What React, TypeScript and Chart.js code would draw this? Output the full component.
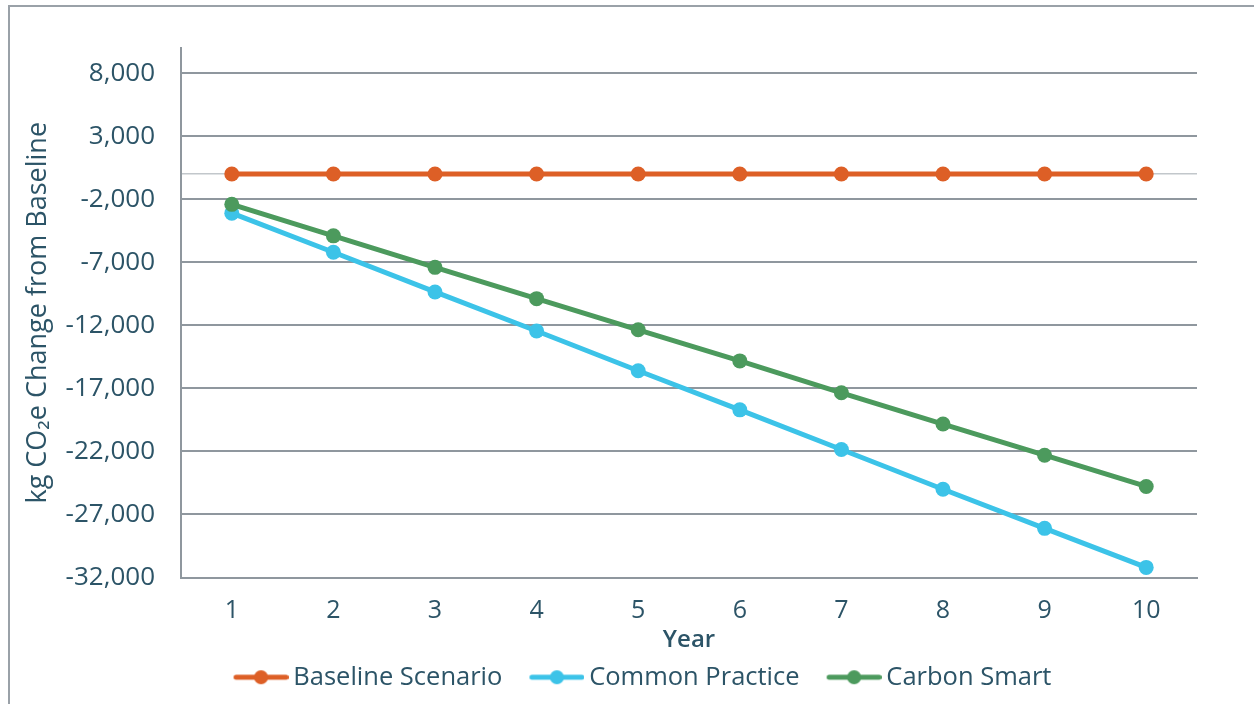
import { useEffect, useRef } from "react";
import { Chart, registerables } from "chart.js";

Chart.register(...registerables);

// Category axis: years 1..10
const years = ["1", "2", "3", "4", "5", "6", "7", "8", "9", "10"];

// Change in emissions relative to the baseline, kg CO2e
const baselineScenario = [0, 0, 0, 0, 0, 0, 0, 0, 0, 0];
const commonPractice = [-3100, -6200, -9350, -12450, -15600, -18700, -21850, -25000, -28100, -31200];
const carbonSmart = [-2400, -4900, -7400, -9880, -12350, -14820, -17350, -19830, -22300, -24780];

// Value axis: gridlines every 5,000 starting from the minimum
const yTickValues = [-32000, -27000, -22000, -17000, -12000, -7000, -2000, 3000, 8000];
const yMin = -32000;
const yMax = 10000;

const seriesNames = ["Baseline Scenario", "Common Practice", "Carbon Smart"];
const seriesColors = ["#dd5f26", "#3cc3e8", "#4c9a5d"];

const TEXT = "#2c5467";
const GRID = "#8f979e";
const ZERO_LINE = "#c2c7cb";
const FONT = "'Open Sans', Lato, sans-serif";

// Legend sample: a short line with a marker in its middle
function legendIcon(color: string): HTMLCanvasElement {
  const c = document.createElement("canvas");
  c.width = 80;
  c.height = 16;
  const ctx = c.getContext("2d")!;
  ctx.strokeStyle = color;
  ctx.lineWidth = 5;
  ctx.lineCap = "round";
  ctx.beginPath();
  ctx.moveTo(27.5, 8);
  ctx.lineTo(77.5, 8);
  ctx.stroke();
  ctx.fillStyle = color;
  ctx.beginPath();
  ctx.arc(52.5, 8, 7, 0, Math.PI * 2);
  ctx.fill();
  return c;
}

export default function App() {
  const ref = useRef<HTMLCanvasElement>(null);

  useEffect(() => {
    const canvas = ref.current;
    if (!canvas) return;
    const icons = seriesColors.map(legendIcon);
    const seriesData = [baselineScenario, commonPractice, carbonSmart];
    const drawOrder = [2, 1, 0];

    const chart = new Chart(canvas, {
      type: "line",
      data: {
        labels: years,
        datasets: seriesNames.map((name, i) => ({
          label: name,
          data: seriesData[i],
          borderColor: seriesColors[i],
          backgroundColor: seriesColors[i],
          pointBackgroundColor: seriesColors[i],
          pointBorderColor: seriesColors[i],
          pointBorderWidth: 0,
          pointRadius: 7.5,
          borderWidth: 5,
          tension: 0,
          order: drawOrder[i],
          yAxisID: "y",
        })),
      },
      options: {
        responsive: false,
        animation: false,
        devicePixelRatio: 1,
        layout: { padding: { top: 48, right: 0, bottom: 0, left: 0 } },
        plugins: {
          tooltip: { enabled: false },
          legend: {
            position: "bottom",
            labels: {
              usePointStyle: true,
              pointStyleWidth: 64,
              padding: 10,
              color: TEXT,
              font: { family: FONT, size: 25.5 },
              sort: (a: any, b: any) => a.datasetIndex - b.datasetIndex,
              generateLabels: (ch: any) =>
                Chart.defaults.plugins.legend.labels
                  .generateLabels(ch)
                  .map((item: any) => ({ ...item, pointStyle: icons[item.datasetIndex] })),
            },
          },
        },
        scales: {
          x: {
            offset: true,
            grid: { display: false, drawTicks: false },
            border: { display: true, color: GRID, width: 2 },
            ticks: { color: TEXT, font: { family: FONT, size: 25 }, padding: 18 },
            title: {
              display: true,
              text: "Year",
              color: TEXT,
              font: { family: FONT, size: 24, weight: "600" },
              padding: { top: 0, bottom: 0 },
            },
            afterFit: (s: any) => {
              s.height = 77;
            },
          },
          y: {
            min: yMin,
            max: yMax,
            grid: {
              drawTicks: false,
              color: (c: any) => (c.tick && c.tick.value === 0 ? ZERO_LINE : GRID),
              lineWidth: (c: any) => (c.tick && c.tick.value === 0 ? 1.5 : 2),
            },
            border: { display: true, color: GRID, width: 2 },
            ticks: {
              autoSkip: false,
              color: TEXT,
              font: { family: FONT, size: 26 },
              padding: 26,
              callback: (v: any) => (Number(v) === 0 ? "" : Number(v).toLocaleString("en-US")),
            },
            title: {
              display: true,
              text: "kg CO\u2082e Change from Baseline",
              color: TEXT,
              font: { family: FONT, size: 27 },
              padding: { top: 14, bottom: 0 },
            },
            afterBuildTicks: (s: any) => {
              s.ticks = [...yTickValues, 0].sort((a, b) => a - b).map((v) => ({ value: v }));
            },
            afterFit: (s: any) => {
              s.width = 173;
            },
          },
          // empty right-hand margin of the plot
          spacer: {
            type: "linear",
            position: "right",
            display: true,
            grid: { display: false, drawTicks: false },
            border: { display: false },
            ticks: { display: false },
            afterFit: (s: any) => {
              s.width = 63;
            },
          },
        },
      },
    } as any);

    return () => chart.destroy();
  }, []);

  return (
    <div
      style={{
        position: "fixed",
        left: 0,
        top: 0,
        width: 1254,
        height: 704,
        overflow: "hidden",
        background: "#ffffff",
      }}
    >
      <div
        style={{
          position: "absolute",
          left: 8,
          top: 5,
          width: 1300,
          height: 800,
          borderLeft: "2px solid #9aa1a8",
          borderTop: "2px solid #9aa1a8",
        }}
      />
      <canvas
        ref={ref}
        width={1252}
        height={700}
        style={{ position: "absolute", left: 8, top: 0, width: 1252, height: 700 }}
      />
    </div>
  );
}
